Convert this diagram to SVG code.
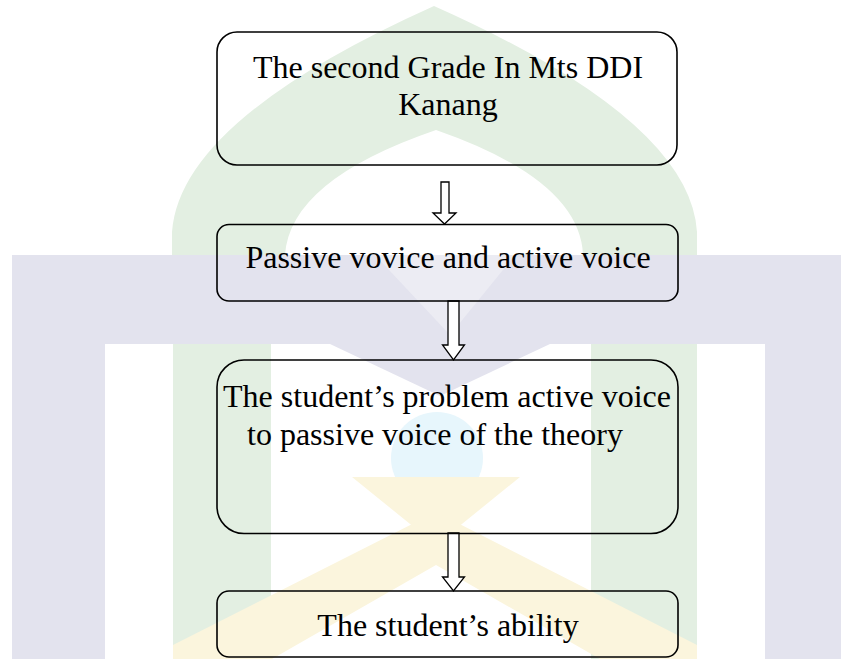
<svg xmlns="http://www.w3.org/2000/svg" width="841" height="659" viewBox="0 0 841 659">
  <style>
    .box { fill: none; stroke: #000; stroke-width: 1.6; }
    .arrow { fill: #fff; stroke: #000; stroke-width: 1.3; stroke-linejoin: miter; }
    .lbl { font-family: "Liberation Serif", "Times New Roman", serif; font-size: 32px; fill: #000; }
    .mid { text-anchor: middle; }
    .lav { fill: #e3e3ee; }
    .grn { fill: #e3efe2; }
    .yel { fill: #fbf5dd; }
    .blu { fill: #e7f6fc; }
  </style>
  <rect x="0" y="0" width="841" height="659" fill="#fff"/>
  <g id="watermark">
    <path class="grn" d="M172,255 L172,232 Q180,120 434,6 Q690,120 697,232 L697,255 L583,255 Q580,180 436,130 Q290,180 285,255 Z"/>
    <path class="lav" fill-rule="evenodd" d="M12,255 H841 V659 H765 V344 H105 V659 H12 Z"/>
    <polygon points="375,255 515,255 450,335" fill="#ececf3"/>
    <polygon class="lav" points="330,344 550,344 440,396"/>
    <rect class="grn" x="173" y="344" width="98" height="315"/>
    <rect class="grn" x="591" y="344" width="106" height="315"/>
    <circle class="blu" cx="437" cy="458" r="46"/>
    <polygon class="yel" points="352,477 520,477 436,545"/>
    <path class="yel" d="M436,512 L697,645 L697,659 L600,659 L436,565 L272,659 L173,659 L173,645 Z"/>
  </g>
  <g id="connectors">
    <polygon class="arrow" points="441,182 449,182 449,213 456,213 444.5,224 433,213 441,213"/>
    <polygon class="arrow" points="448,301 459,301 459,345 464.5,345 453.5,360 442.5,345 448,345"/>
    <polygon class="arrow" points="448,533 459,533 459,577 464.5,577 453.5,591 442.5,577 448,577"/>
  </g>
  <g id="node1">
    <rect class="box" x="217" y="32" width="460" height="133" rx="20" ry="20"/>
    <text class="lbl mid" x="448" y="78">The second Grade In Mts DDI</text>
    <text class="lbl mid" x="448" y="115">Kanang</text>
  </g>
  <g id="node2">
    <rect class="box" x="217" y="224.5" width="461" height="76.5" rx="12" ry="12"/>
    <text class="lbl mid" x="448" y="268">Passive vovice and active voice</text>
  </g>
  <g id="node3">
    <rect class="box" x="217" y="360" width="461" height="173.5" rx="27" ry="27"/>
    <text class="lbl mid" x="447" y="407">The student’s problem active voice</text>
    <text class="lbl" x="247" y="445">to passive voice of the theory</text>
  </g>
  <g id="node4">
    <rect class="box" x="217" y="591" width="461" height="66" rx="12" ry="12"/>
    <text class="lbl mid" x="448" y="636">The student’s ability</text>
  </g>
</svg>
